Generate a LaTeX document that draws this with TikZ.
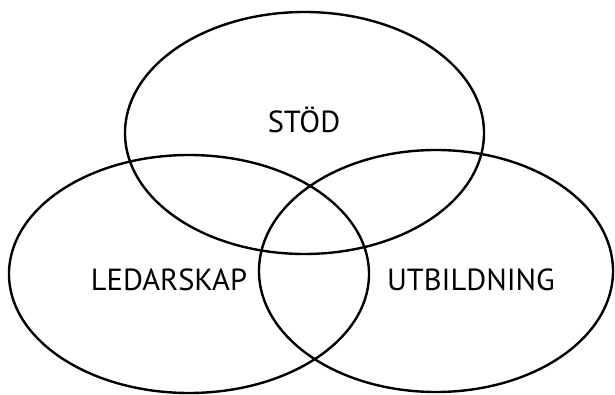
\documentclass[tikz,border=0pt]{standalone}
\usepackage{fontspec}
\setmainfont{PT Sans}
\usetikzlibrary{positioning}

\begin{document}
\begin{tikzpicture}[x=1pt, y=-1pt, line width=2.4pt,
  setlabel/.style={font=\fontsize{30.5}{32}\selectfont, inner sep=0pt}]
\useasboundingbox (0,0) rectangle (615,395);

% the three sets
\draw (304.5,133) ellipse [x radius=179.5, y radius=121];
\draw (189,274) ellipse [x radius=180, y radius=119];
\draw (436,271) ellipse [x radius=177, y radius=121];

% labels
\node[setlabel] (stod) at (304,120) {STÖD};
\node[setlabel] (ledarskap) at (169,280) {LEDARSKAP};
\node[setlabel] (utbildning) at (471,280) {UTBILDNING};

\end{tikzpicture}
\end{document}
